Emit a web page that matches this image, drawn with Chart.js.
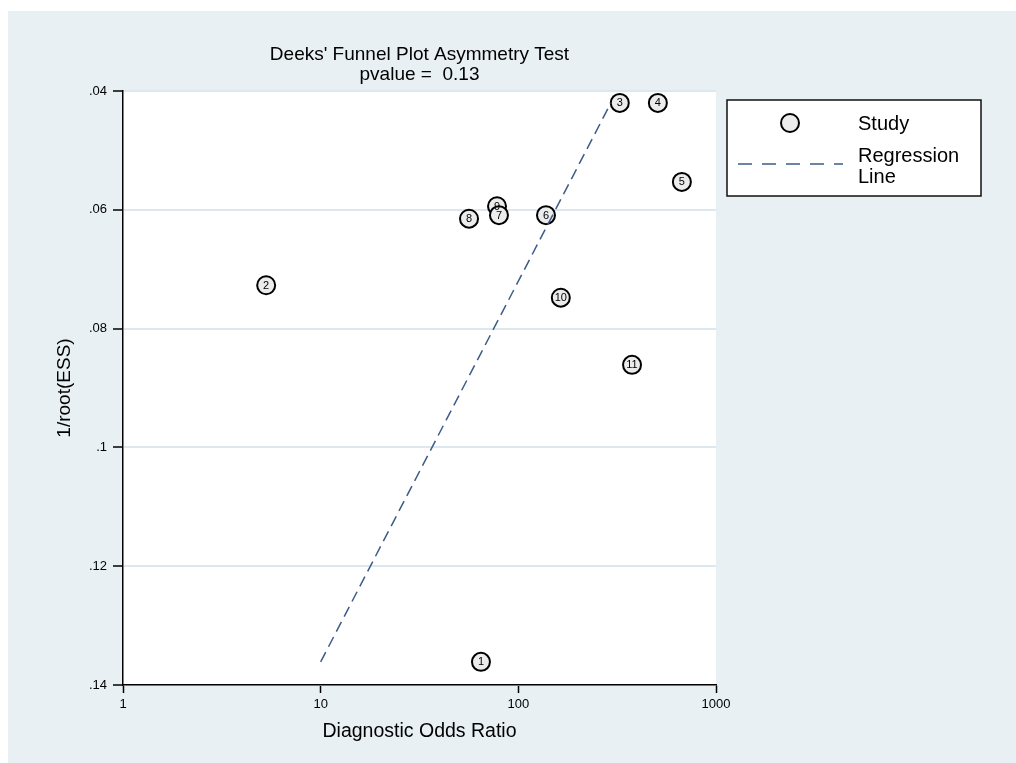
<!DOCTYPE html>
<html>
<head>
<meta charset="utf-8">
<script src="https://cdn.jsdelivr.net/npm/chart.js@4.4.1/dist/chart.umd.min.js"></script>
<style>
  html, body { margin: 0; padding: 0; background: #fff; }
</style>
</head>
<body>
<canvas id="funil" width="1016" height="763"></canvas>
<script>
// estudos (9 antes do 7 para o 7 ficar por cima)
const estudos = ['1', '2', '3', '4', '5', '6', '8', '9', '7', '10', '11'];
const dor = [64.7, 5.3, 326, 508, 672, 138, 56.3, 78, 79.8, 164, 376];
const invRaizEss = [0.1361, 0.0727, 0.042, 0.042, 0.0553, 0.0609, 0.0615, 0.0594, 0.0609, 0.0748, 0.0861];

// reta de regressao
const regressaoX = [10, 294];
const regressaoY = [0.1361, 0.042];

const xTicks = [1, 10, 100, 1000];
const xTickLabels = ['1', '10', '100', '1000'];
const yTicks = [0.04, 0.06, 0.08, 0.1, 0.12, 0.14];
const yTickLabels = ['.04', '.06', '.08', '.1', '.12', '.14'];

const FONTE = '"Liberation Sans", Arial, Helvetica, sans-serif';
const COR_FUNDO = '#e8f0f3';
const COR_GRADE = '#dde8ee';
const COR_RETA = '#3c5c86';
const COR_PONTO = '#ececec';

Chart.defaults.font.family = FONTE;
Chart.defaults.color = '#000';

const fundoPlugin = {
    id: 'fundo',
    beforeDraw(chart) {
        const { ctx, chartArea: a } = chart;
        ctx.save();
        ctx.fillStyle = '#fff';
        ctx.fillRect(0, 0, chart.width, chart.height);
        ctx.fillStyle = COR_FUNDO;
        ctx.fillRect(8, 11, chart.width - 8, chart.height - 11);
        ctx.fillStyle = '#fff';
        ctx.fillRect(a.left, a.top, a.right - a.left, a.bottom - a.top);
        ctx.restore();
    }
};

const rotulosPlugin = {
    id: 'rotulos',
    afterDatasetsDraw(chart) {
        const { ctx } = chart;
        const meta = chart.getDatasetMeta(1);
        ctx.save();
        ctx.fillStyle = '#000';
        ctx.font = '11px ' + FONTE;
        ctx.textAlign = 'center';
        ctx.textBaseline = 'middle';
        meta.data.forEach((p, i) => ctx.fillText(estudos[i], p.x, p.y + 0.5));
        ctx.restore();
    }
};

const legendaPlugin = {
    id: 'legenda',
    afterDraw(chart) {
        const { ctx } = chart;
        const pts = chart.data.datasets[1];
        const reta = chart.data.datasets[0];
        ctx.save();
        ctx.fillStyle = '#fff';
        ctx.fillRect(727, 100, 254, 96);
        ctx.strokeStyle = '#111';
        ctx.lineWidth = 1.5;
        ctx.strokeRect(727, 100, 254, 96);

        ctx.beginPath();
        ctx.arc(790, 123, 9, 0, Math.PI * 2);
        ctx.fillStyle = pts.backgroundColor;
        ctx.fill();
        ctx.lineWidth = 2;
        ctx.strokeStyle = pts.borderColor;
        ctx.stroke();

        ctx.beginPath();
        ctx.setLineDash([14, 10]);
        ctx.strokeStyle = reta.borderColor;
        ctx.lineWidth = 1.5;
        ctx.moveTo(738, 164);
        ctx.lineTo(843, 164);
        ctx.stroke();
        ctx.setLineDash([]);

        ctx.fillStyle = '#000';
        ctx.font = '20px ' + FONTE;
        ctx.textAlign = 'left';
        ctx.textBaseline = 'middle';
        ctx.fillText(pts.label, 858, 124);
        const linhas = reta.label.split(' ');
        ctx.fillText(linhas[0], 858, 156);
        ctx.fillText(linhas[1], 858, 177);
        ctx.restore();
    }
};

new Chart(document.getElementById('funil'), {
    type: 'scatter',
    data: {
        datasets: [
            {
                label: 'Regression Line',
                data: regressaoX.map((x, i) => ({ x: x, y: regressaoY[i] })),
                showLine: true,
                borderColor: COR_RETA,
                borderWidth: 1.5,
                borderDash: [11, 6],
                pointRadius: 0,
                fill: false,
                order: 0
            },
            {
                label: 'Study',
                data: dor.map((x, i) => ({ x: x, y: invRaizEss[i] })),
                pointRadius: 9,
                pointHoverRadius: 9,
                borderWidth: 2,
                borderColor: '#000',
                backgroundColor: COR_PONTO,
                order: 1
            }
        ]
    },
    options: {
        responsive: false,
        animation: false,
        layout: { padding: { top: 30, left: 8, right: 300, bottom: 20 } },
        plugins: {
            legend: { display: false },
            tooltip: { enabled: false },
            title: {
                display: true,
                fullSize: false,
                text: ["Deeks' Funnel Plot Asymmetry Test", 'pvalue =  0.13'],
                color: '#000',
                font: { size: 19, weight: 'normal', lineHeight: '20px' },
                padding: { top: 15, bottom: 6 }
            }
        },
        scales: {
            x: {
                type: 'logarithmic',
                min: 1,
                max: 1000,
                afterBuildTicks: s => { s.ticks = xTicks.map(v => ({ value: v })); },
                afterFit: s => { s.height = 58; },
                ticks: {
                    autoSkip: false,
                    maxRotation: 0,
                    padding: 4,
                    font: { size: 13 },
                    callback: (v, i) => xTickLabels[i]
                },
                grid: { drawOnChartArea: false, color: '#000', tickLength: 8, tickWidth: 1.5 },
                border: { display: true, color: '#000', width: 1.5 },
                title: {
                    display: true,
                    text: 'Diagnostic Odds Ratio',
                    font: { size: 19.5, lineHeight: '22px' },
                    padding: { top: 0, bottom: 0 }
                }
            },
            y: {
                type: 'linear',
                reverse: true,
                min: 0.04,
                max: 0.14,
                afterBuildTicks: s => { s.ticks = yTicks.map(v => ({ value: v })); },
                afterFit: s => { s.width = 115; },
                ticks: {
                    autoSkip: false,
                    padding: 6,
                    font: { size: 13 },
                    callback: (v, i) => yTickLabels[i]
                },
                grid: { color: COR_GRADE, lineWidth: 2, tickColor: '#000', tickLength: 10, tickWidth: 1.5 },
                border: { display: true, color: '#000', width: 1.5 },
                title: {
                    display: true,
                    text: '1/root(ESS)',
                    font: { size: 19, lineHeight: '22px' },
                    padding: { top: 46, bottom: 0 }
                }
            }
        }
    },
    plugins: [fundoPlugin, rotulosPlugin, legendaPlugin]
});
</script>
</body>
</html>
